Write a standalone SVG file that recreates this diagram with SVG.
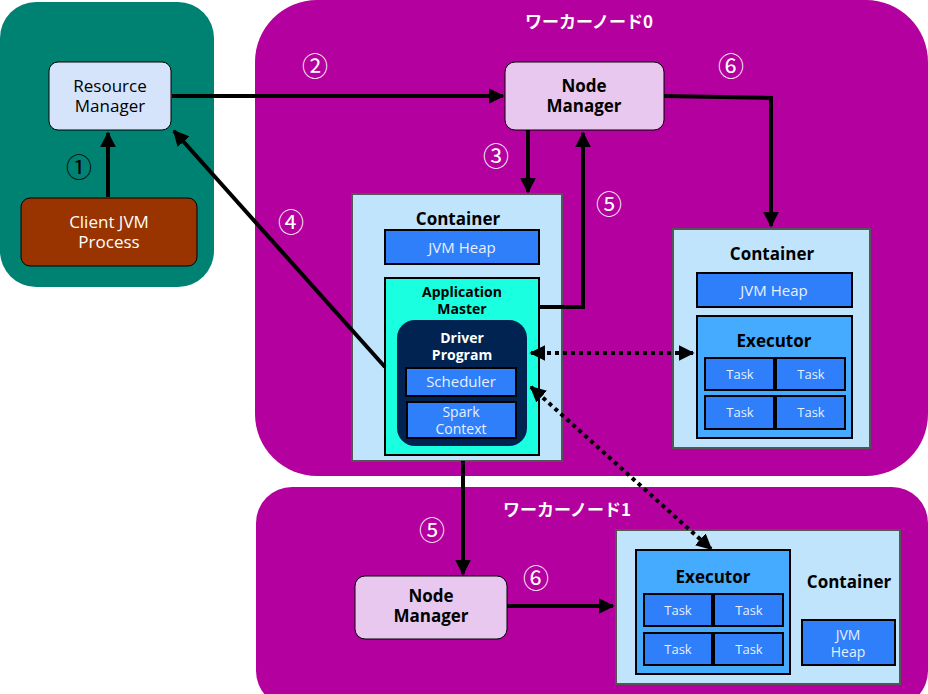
<svg xmlns="http://www.w3.org/2000/svg" width="928" height="694" viewBox="0 0 928 694">
<defs>
<marker id="ah" viewBox="0 0 10 10" refX="9" refY="5" markerWidth="4" markerHeight="4" orient="auto-start-reverse" markerUnits="strokeWidth">
<path d="M0,0 L10,5 L0,10 z" fill="#000"/>
</marker>
<style>
text{font-family:"Open Sans","Noto Sans","Noto Sans CJK JP",sans-serif;text-anchor:middle}
.t{font-size:17px;fill:#000}
.b{font-weight:bold}
.w{fill:#fff}
.num{font-family:"Noto Sans CJK JP",sans-serif;font-size:26px;fill:#fff}
.cont{fill:#c0e4fc;stroke:#555;stroke-width:2}
.blue{fill:#2e7ff9;stroke:#000;stroke-width:2}
.bt{font-size:15px;fill:#e8f0ff}
.bt2{font-size:14px;fill:#e8f0ff}
.task{font-size:13px;fill:#e8f0ff}
.nm{fill:#e8c8ee;stroke:#000;stroke-width:1}
.ln{fill:none;stroke:#000;stroke-width:4}
.dot{fill:none;stroke:#000;stroke-width:4;stroke-dasharray:4 4}
</style>
</defs>

<g id="client-panel">
<rect x="0" y="2" width="214" height="285" rx="36" fill="#008272"/>
</g>
<g id="worker0-panel">
<rect x="255" y="0" width="673" height="476" rx="62" fill="#b4009e"/>
<text x="589" y="28" font-size="17" class="b w" style="font-family:'Noto Sans CJK JP',sans-serif">ワーカーノード0</text>
</g>
<g id="worker1-panel">
<rect x="256" y="487" width="672" height="220" rx="36" fill="#b4009e"/>
<text x="567" y="516" font-size="17" class="b w" style="font-family:'Noto Sans CJK JP',sans-serif">ワーカーノード1</text>
</g>

<g id="resource-manager">
<rect x="49" y="62" width="122" height="68" rx="9" fill="#d5e4fb" stroke="#000" stroke-width="1"/>
<text x="110" y="92" class="t">Resource</text>
<text x="110" y="112" class="t">Manager</text>
</g>
<g id="client-jvm">
<rect x="21" y="198" width="176" height="68" rx="9" fill="#993300" stroke="#000" stroke-width="1"/>
<text x="109" y="228" class="t w">Client JVM</text>
<text x="109" y="248" class="t w">Process</text>
</g>

<g id="node-manager-0">
<rect x="505" y="62" width="159" height="68" rx="10" class="nm"/>
<text x="584" y="92" class="t b">Node</text>
<text x="584" y="112" class="t b">Manager</text>
</g>

<g id="container-am">
<rect x="352" y="194" width="210" height="267" class="cont"/>
<text x="458" y="225" class="t b">Container</text>
<rect x="385" y="230" width="154" height="34" class="blue"/>
<text x="462" y="253" class="bt">JVM Heap</text>
</g>
<g id="application-master">
<rect x="385" y="278" width="154" height="177" fill="#1affdf" stroke="#000" stroke-width="2"/>
<text x="462" y="297" font-size="14" class="b">Application</text>
<text x="462" y="314" font-size="14" class="b">Master</text>
</g>
<g id="driver-program">
<rect x="397" y="320" width="130" height="126" rx="18" fill="#002351"/>
<text x="462" y="343" font-size="14" class="b w">Driver</text>
<text x="462" y="360" font-size="14" class="b w">Program</text>
</g>
<g id="scheduler">
<rect x="406" y="368" width="110" height="28" class="blue"/>
<text x="461" y="387" class="bt">Scheduler</text>
</g>
<g id="spark-context">
<rect x="407" y="402" width="109" height="36" class="blue"/>
<text x="461" y="417" class="bt2">Spark</text>
<text x="461" y="434" class="bt2">Context</text>
</g>

<g id="container-0">
<rect x="673" y="229" width="197" height="219" class="cont"/>
<text x="772" y="260" class="t b">Container</text>
<rect x="697" y="273" width="155" height="34" class="blue"/>
<text x="774" y="296" class="bt">JVM Heap</text>
</g>
<g id="executor-0">
<rect x="697" y="316" width="155" height="122" fill="#45abfe" stroke="#000" stroke-width="2"/>
<text x="774" y="347" class="t b">Executor</text>
<rect x="705" y="358" width="69" height="32" class="blue"/>
<text x="740" y="379" class="task">Task</text>
<rect x="776" y="358" width="69" height="32" class="blue"/>
<text x="811" y="379" class="task">Task</text>
<rect x="705" y="396" width="69" height="33" class="blue"/>
<text x="740" y="417" class="task">Task</text>
<rect x="776" y="396" width="69" height="33" class="blue"/>
<text x="811" y="417" class="task">Task</text>
</g>

<g id="node-manager-1">
<rect x="355" y="576" width="152" height="63" rx="10" class="nm"/>
<text x="431" y="602" class="t b">Node</text>
<text x="431" y="622" class="t b">Manager</text>
</g>
<g id="container-1">
<rect x="616" y="530" width="284" height="154" class="cont"/>
<text x="849" y="588" class="t b">Container</text>
<rect x="802" y="620" width="93" height="45" class="blue"/>
<text x="848" y="640" class="bt2">JVM</text>
<text x="848" y="657" class="bt2">Heap</text>
</g>
<g id="executor-1">
<rect x="636" y="550" width="154" height="124" fill="#45abfe" stroke="#000" stroke-width="2"/>
<text x="713" y="583" class="t b">Executor</text>
<rect x="644" y="594" width="68" height="32" class="blue"/>
<text x="678" y="615" class="task">Task</text>
<rect x="714" y="594" width="69" height="32" class="blue"/>
<text x="749" y="615" class="task">Task</text>
<rect x="644" y="633" width="68" height="32" class="blue"/>
<text x="678" y="654" class="task">Task</text>
<rect x="714" y="633" width="69" height="32" class="blue"/>
<text x="749" y="654" class="task">Task</text>
</g>

<g id="connectors">
<path class="ln" d="M108,197 L108,133" marker-end="url(#ah)"/>
<path class="ln" d="M172,96 L503,96" marker-end="url(#ah)"/>
<path class="ln" d="M528,130 L528,192" marker-end="url(#ah)"/>
<path class="ln" d="M540,307 L583,307 L583,133" marker-end="url(#ah)"/>
<path class="ln" d="M664,96 L771,98 L771,226" marker-end="url(#ah)"/>
<path class="ln" d="M385,367 L174,131" marker-end="url(#ah)"/>
<path class="ln" d="M463,461 L463,574" marker-end="url(#ah)"/>
<path class="ln" d="M507,606 L613,606" marker-end="url(#ah)"/>
<path class="dot" d="M531,353 L693,353" marker-start="url(#ah)" marker-end="url(#ah)"/>
<path class="dot" d="M531,387 L711,549" marker-start="url(#ah)" marker-end="url(#ah)"/>
</g>

<g id="labels">
<text x="79" y="177" class="num" style="fill:#000">①</text>
<text x="315" y="76" class="num">②</text>
<text x="496" y="166" class="num">③</text>
<text x="291" y="232" class="num">④</text>
<text x="609" y="214" class="num">⑤</text>
<text x="731" y="76" class="num">⑥</text>
<text x="432" y="540" class="num">⑤</text>
<text x="536" y="588" class="num">⑥</text>
</g>
</svg>
